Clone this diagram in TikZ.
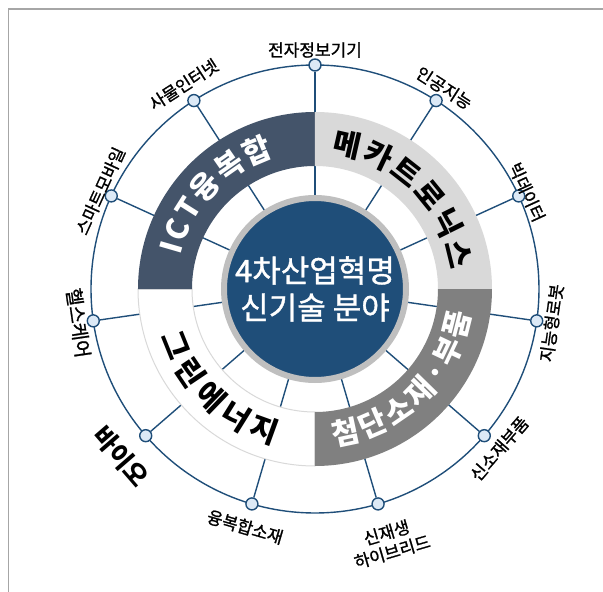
\documentclass[tikz,border=0pt]{standalone}
\usepackage{fontspec}
\setmainfont{Noto Sans CJK KR}
\newfontfamily\medfont{Noto Sans CJK KR}[FakeBold=1.2]
\usetikzlibrary{decorations.text}
\definecolor{navy}{HTML}{1F4E79}
\definecolor{nodeblue}{HTML}{DCE9F6}
\definecolor{slate}{HTML}{44546A}
\definecolor{ringlight}{HTML}{D9D9D9}
\definecolor{ringmid}{HTML}{808080}
\definecolor{hubgray}{HTML}{BFBFBF}
\definecolor{framegray}{HTML}{A6A6A6}
\def\R{224}
\def\Ro{177}
\def\Ri{123}
\newcommand{\ringfont}{\bfseries\fontsize{30}{30}\selectfont}
\tikzstyle{field}=[draw=navy,fill=nodeblue,circle,line width=1.4pt,minimum size=12pt,inner sep=0pt]
\tikzstyle{fieldlabel}=[font=\medfont\fontsize{17}{20}\selectfont,inner sep=0pt,align=center]
\tikzstyle{spoke}=[draw=navy,line width=1.4pt]
\tikzstyle{hub}=[circle,fill=navy,draw=hubgray,line width=6pt,minimum size=182pt,inner sep=0pt,
  text=white,align=center,font=\medfont\fontsize{31}{37}\selectfont]
\tikzstyle{ringtext}=[decorate,decoration={text along path,text align=fit to path}]
\newcommand{\newField}[5]{\node[field](#1) at (#2:\R) {};
  \node[fieldlabel,#5](#1-l) at (#2:{\R+#4}) {#3};}
\newcommand{\newSector}[3]{\path[#3] (#1:\Ro) arc[start angle=#1,end angle=#2,radius=\Ro]
  -- (#2:\Ri) arc[start angle=#2,end angle=#1,radius=\Ri] -- cycle;}
\newcommand{\newRingText}[5]{\path[ringtext,decoration={text={|\ringfont|#1},text color=#5}]
  (#2:#4) arc[start angle=#2,end angle=#3,radius=#4];}
\begin{document}
\begin{tikzpicture}[x=1pt,y=1pt]
    \useasboundingbox (-315,-303) rectangle (288,289);
    \draw[framegray,line width=1.5pt] (-306.3,-303) -- (-306.3,280) -- (288,280);
    \coordinate (c) at (0,0);
    \draw[navy,line width=1.4pt] (c) circle[radius=\R];
    % outer fields
    \newField{ele}{90}{전자정보기기}{15}{rotate=0}
    \newField{ai}{57.27}{인공지능}{15}{rotate=-32.73}
    \newField{bigdata}{24.55}{빅데이터}{9}{rotate=-65.45}
    \newField{robot}{-8.18}{지능형로봇}{15}{rotate=81.82}
    \newField{newmat}{-40.91}{신소재부품}{20}{rotate=49.09}
    \newField{renew}{-73.64}{신재생\\하이브리드}{40}{rotate=16.36}
    \newField{fusion}{-106.36}{융복합소재}{24}{rotate=-16.36}
    \newField{bio}{-139.09}{바이오}{32}{rotate=-49.09,font=\bfseries\fontsize{25}{25}\selectfont}
    \newField{health}{-171.82}{헬스케어}{15}{rotate=-81.82,font=\medfont\fontsize{19}{20}\selectfont}
    \newField{mobile}{155.45}{스마트모바일}{12}{rotate=65.45}
    \newField{iot}{122.73}{사물인터넷}{19}{rotate=32.73}
    \foreach \n in {ele,ai,bigdata,robot,newmat,renew,fusion,bio,health,mobile,iot}
      \draw[spoke] (c) -- (\n);
    % ring of sectors
    \newSector{180}{270}{fill=white,draw=ringlight,line width=1pt}
    \newSector{180}{90}{fill=slate}
    \newSector{90}{0}{fill=ringlight}
    \newSector{0}{-90}{fill=ringmid}
    \node[hub] (hub) at (c) {4차산업혁명\\신기술 분야};
    \newRingText{ICT융복합}{166}{107}{139}{white}
    \newRingText{메카트로닉스}{83}{8}{137}{black}
    \newRingText{첨단소재·부품}{-83}{-9}{158}{white}
    \newRingText{그린에너지}{197}{255}{161}{black}
\end{tikzpicture}
\end{document}
